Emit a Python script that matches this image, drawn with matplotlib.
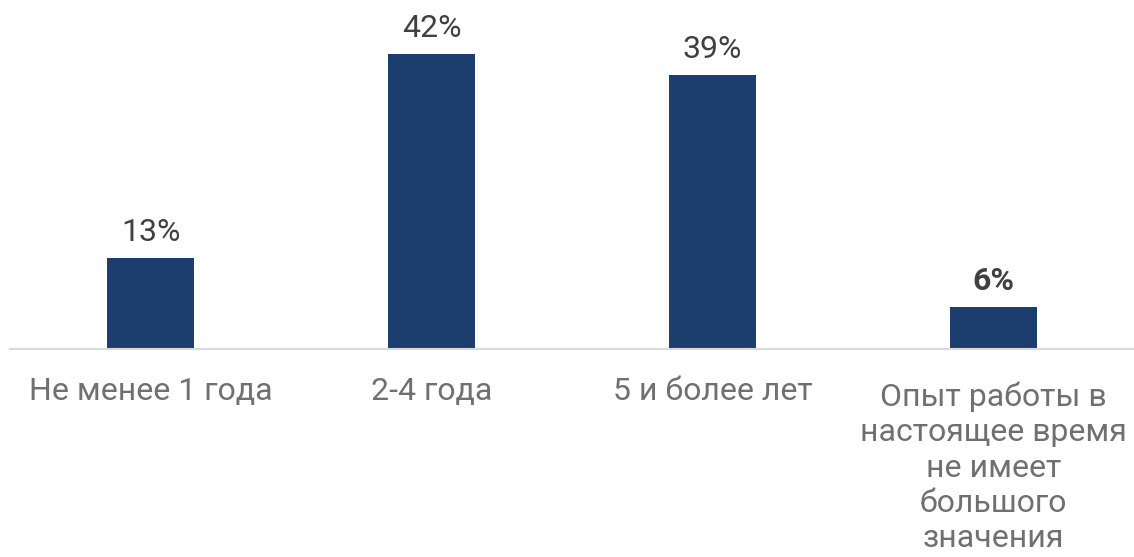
import matplotlib
matplotlib.use("Agg")
import matplotlib.pyplot as plt
from matplotlib.transforms import ScaledTranslation

categories = ["Не менее 1 года", "2-4 года", "5 и более лет",
              "Опыт работы в\nнастоящее время\nне имеет\nбольшого\nзначения"]
values = [13, 42, 39, 6]
labels = ["13%", "42%", "39%", "6%"]
bold = [False, False, False, True]

plt.rcParams['font.family'] = ['Roboto', 'DejaVu Sans']

fig = plt.figure(figsize=(11.34, 5.57), dpi=100)
ax = fig.add_axes([10/1134, 208/557, 1 - 10/1134, 349/557])
x = list(range(len(values)))
bars = ax.bar(x, values, width=0.313, color="#1B3E6F", zorder=2)
ax.set_xlim(-0.5, 3.5)
ax.set_ylim(0, 49.7)
for xi, v, lab, b in zip(x, values, labels, bold):
    ax.annotate(lab, (xi, v), xytext=(0, 8), textcoords="offset points",
                ha="center", va="bottom", fontsize=23, color="#404040",
                fontweight="bold" if b else "normal")
for s in ["top", "right", "left"]:
    ax.spines[s].set_visible(False)
ax.spines["bottom"].set_color("#D9D9D9")
ax.spines["bottom"].set_linewidth(1.5)
ax.set_yticks([])
ax.set_xticks(x)
ax.set_xticklabels(categories, fontsize=23, color="#707070", linespacing=1.27)
ax.tick_params(axis="x", length=0, pad=20)
last = ax.get_xticklabels()[-1]
last.set_transform(last.get_transform() + ScaledTranslation(0, -5/100, fig.dpi_scale_trans))
fig.savefig("out.png", dpi=100)
